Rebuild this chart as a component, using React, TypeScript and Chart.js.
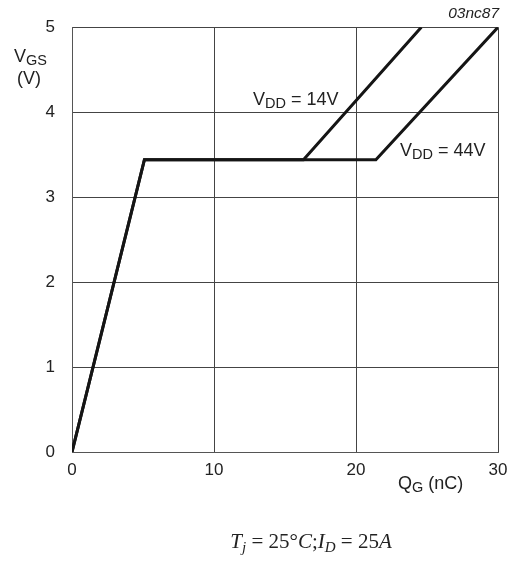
import React, { useEffect, useRef } from "react";
import { Chart, registerables } from "chart.js";

Chart.register(...registerables);

// Gate charge (nC) vs gate-source voltage (V)
const qg14 = [0, 5.1, 16.3, 24.6];
const vgs14 = [0, 3.44, 3.44, 5];
const qg44 = [0, 5.1, 21.4, 30];
const vgs44 = [0, 3.44, 3.44, 5];

const xTicks = [0, 10, 20, 30];
const yTicks = [0, 1, 2, 3, 4, 5];

const FONT = "'Liberation Sans', Arial, sans-serif";
const SERIF = "'Liberation Serif', 'Times New Roman', serif";
const TXT = "#222";

function drawSub(ctx: CanvasRenderingContext2D, x: number, y: number, main: string, sub: string, rest: string, size: number, subSize: number) {
  ctx.font = `${size}px ${FONT}`;
  ctx.fillText(main, x, y);
  let cx = x + ctx.measureText(main).width;
  ctx.font = `${subSize}px ${FONT}`;
  ctx.fillText(sub, cx, y + 3);
  cx += ctx.measureText(sub).width;
  ctx.font = `${size}px ${FONT}`;
  ctx.fillText(rest, cx, y);
}

const textPlugin = {
  id: "texts",
  afterDraw(chart: any) {
    const ctx: CanvasRenderingContext2D = chart.ctx;
    const xs = chart.scales.x;
    const ys = chart.scales.y;
    ctx.save();
    ctx.fillStyle = TXT;
    ctx.textBaseline = "alphabetic";
    ctx.textAlign = "left";
    // curve labels
    drawSub(ctx, xs.getPixelForValue(12.75), ys.getPixelForValue(4.09), "V", "DD", " = 14V", 18, 14.5);
    drawSub(ctx, xs.getPixelForValue(23.1), ys.getPixelForValue(3.48), "V", "DD", " = 44V", 18, 14.5);
    // axis titles
    drawSub(ctx, 14, 62, "V", "GS", "", 18, 14.5);
    ctx.font = `18px ${FONT}`;
    ctx.fillText("(V)", 17, 84);
    drawSub(ctx, 398, 489, "Q", "G", " (nC)", 18, 14.5);
    // figure code
    ctx.font = `italic 15.5px ${FONT}`;
    ctx.textAlign = "right";
    ctx.fillText("03nc87", 499, 18);
    // caption
    ctx.textAlign = "left";
    const parts: [string, string, number][] = [
      ["T", "italic", 0],
      ["j", "italic", 4],
      [" = 25°", "normal", 0],
      ["C", "italic", 0],
      [";", "normal", 0],
      ["I", "italic", 0],
      ["D", "italic", 4],
      [" = 25", "normal", 0],
      ["A", "italic", 0],
    ];
    const sizeOf = (p: [string, string, number]) => (p[2] ? 15 : 21);
    let total = 0;
    for (const p of parts) {
      ctx.font = `${p[1]} ${sizeOf(p)}px ${SERIF}`;
      total += ctx.measureText(p[0]).width;
    }
    let cx = 311 - total / 2;
    for (const p of parts) {
      ctx.font = `${p[1]} ${sizeOf(p)}px ${SERIF}`;
      ctx.fillText(p[0], cx, 548 + p[2]);
      cx += ctx.measureText(p[0]).width;
    }
    ctx.restore();
  },
};

export default function App() {
  const ref = useRef<HTMLCanvasElement>(null);
  useEffect(() => {
    document.body.style.margin = "0";
    const canvas = ref.current!;
    const chart = new Chart(canvas, {
      type: "scatter",
      data: {
        datasets: [
          {
            label: "VDD = 14V",
            data: qg14.map((q, i) => ({ x: q, y: vgs14[i] })),
            showLine: true,
            borderColor: "#151515",
            borderWidth: 3,
            pointRadius: 0,
            tension: 0,
          },
          {
            label: "VDD = 44V",
            data: qg44.map((q, i) => ({ x: q, y: vgs44[i] })),
            showLine: true,
            borderColor: "#151515",
            borderWidth: 3,
            pointRadius: 0,
            tension: 0,
          },
        ],
      },
      options: {
        responsive: false,
        animation: false,
        devicePixelRatio: 1,
        layout: { padding: { left: 0, right: 18, top: 23, bottom: 0 } },
        plugins: { legend: { display: false }, tooltip: { enabled: false }, title: { display: false } },
        scales: {
          x: {
            type: "linear",
            min: 0,
            max: 30,
            afterBuildTicks: (s: any) => {
              s.ticks = xTicks.map((v) => ({ value: v }));
            },
            afterFit: (s: any) => {
              s.height = 115;
            },
            ticks: { color: TXT, font: { family: FONT, size: 17 }, padding: 8, maxRotation: 0 },
            grid: { color: "#444", lineWidth: 1, drawTicks: false },
            border: { display: true, color: "#555", width: 1 },
          },
          y: {
            type: "linear",
            min: 0,
            max: 5,
            afterBuildTicks: (s: any) => {
              s.ticks = yTicks.map((v) => ({ value: v }));
            },
            afterFit: (s: any) => {
              s.width = 72;
            },
            ticks: { color: TXT, font: { family: FONT, size: 17 }, padding: 17 },
            grid: { color: "#444", lineWidth: 1, drawTicks: false },
            border: { display: true, color: "#555", width: 1 },
          },
        },
      },
      plugins: [textPlugin],
    });
    return () => chart.destroy();
  }, []);
  return <canvas ref={ref} width={516} height={567} style={{ display: "block", width: 516, height: 567 }} />;
}
